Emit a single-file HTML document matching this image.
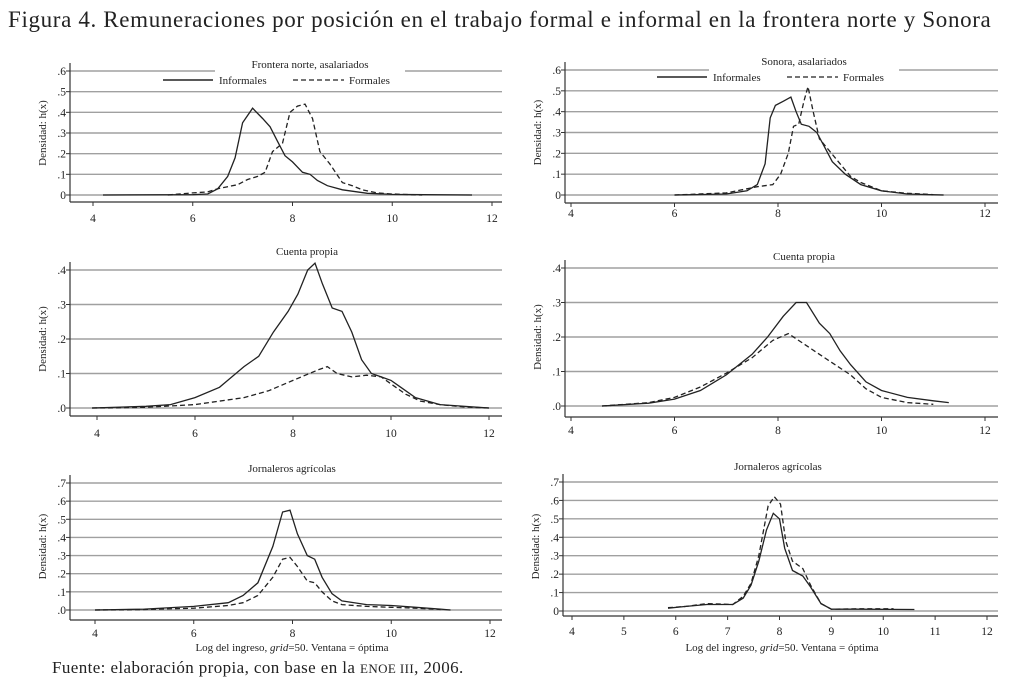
<!DOCTYPE html>
<html><head><meta charset="utf-8"><style>
body{margin:0;background:#fff;width:1032px;height:687px;overflow:hidden;font-family:"Liberation Serif",serif;}
#title{position:absolute;left:8px;top:7px;font-size:23px;color:#222;white-space:nowrap;letter-spacing:0.65px}
#foot{position:absolute;left:52px;top:658px;font-size:17px;color:#222;letter-spacing:0.4px;white-space:nowrap}
svg{position:absolute;left:0;top:0}
</style></head><body>
<div id="title">Figura 4. Remuneraciones por posición en el trabajo formal e informal en la frontera norte y Sonora</div>
<div id="foot">Fuente: elaboración propia, con base en la <span style="font-size:13px">ENOE III</span>, 2006.</div>
<svg id="chart" width="1032" height="687"></svg>
<script>
// Panel 1: Frontera norte, asalariados
const p1InfX=[4.2,6,6.3,6.5,6.7,6.85,7,7.2,7.4,7.55,7.7,7.85,8.0,8.2,8.35,8.5,8.7,9,9.5,10,11.6];
const p1InfY=[0,0.002,0.005,0.03,0.09,0.18,0.35,0.42,0.37,0.33,0.26,0.19,0.16,0.11,0.10,0.07,0.045,0.025,0.008,0.003,0];
const p1ForX=[5.5,6,6.3,6.5,6.7,6.9,7.1,7.3,7.45,7.6,7.8,7.95,8.1,8.25,8.4,8.55,8.75,9.0,9.2,9.4,9.7,10,10.6];
const p1ForY=[0,0.01,0.015,0.03,0.04,0.05,0.075,0.09,0.11,0.21,0.25,0.40,0.43,0.44,0.37,0.21,0.15,0.06,0.045,0.025,0.01,0.005,0];
// Panel 2: Sonora, asalariados
const p2InfX=[6,7,7.4,7.6,7.75,7.85,7.95,8.1,8.25,8.35,8.45,8.6,8.75,8.9,9.05,9.3,9.6,10,10.5,11.2];
const p2InfY=[0,0.005,0.02,0.05,0.15,0.37,0.43,0.45,0.47,0.40,0.34,0.33,0.30,0.23,0.16,0.10,0.05,0.02,0.005,0];
const p2ForX=[6,7,7.4,7.6,7.9,8.05,8.2,8.3,8.4,8.5,8.58,8.68,8.8,9,9.2,9.4,9.6,10,10.5,11];
const p2ForY=[0,0.01,0.03,0.04,0.05,0.10,0.20,0.33,0.34,0.45,0.52,0.40,0.27,0.21,0.15,0.09,0.06,0.02,0.008,0.002];
// Panel 3: Cuenta propia (frontera)
const p3InfX=[3.9,5,5.5,6,6.5,7,7.3,7.6,7.9,8.1,8.3,8.45,8.6,8.8,9,9.2,9.4,9.6,9.8,10,10.2,10.5,11,12];
const p3InfY=[0,0.005,0.01,0.03,0.06,0.12,0.15,0.22,0.28,0.33,0.40,0.42,0.36,0.29,0.28,0.22,0.14,0.10,0.09,0.08,0.06,0.03,0.01,0];
const p3ForX=[3.9,5,6,7,7.5,8,8.5,8.7,8.9,9.2,9.5,9.8,10,10.3,10.6,11,11.5,12];
const p3ForY=[0,0.002,0.01,0.03,0.05,0.08,0.11,0.12,0.10,0.09,0.095,0.09,0.07,0.04,0.02,0.01,0.003,0];
// Panel 4: Cuenta propia (Sonora)
const p4InfX=[4.6,5.5,6,6.5,7,7.5,7.8,8.1,8.35,8.55,8.8,9,9.2,9.4,9.7,10,10.5,11,11.3];
const p4InfY=[0,0.008,0.02,0.045,0.09,0.15,0.20,0.26,0.30,0.30,0.24,0.21,0.16,0.12,0.07,0.045,0.025,0.015,0.01];
const p4ForX=[4.6,5.5,6,6.5,7,7.5,7.9,8.2,8.5,8.8,9.1,9.4,9.7,10,10.5,11];
const p4ForY=[0,0.01,0.025,0.055,0.095,0.14,0.19,0.21,0.18,0.15,0.12,0.09,0.05,0.025,0.01,0.005];
// Panel 5: Jornaleros agrícolas (frontera)
const p5InfX=[4,5,6,6.7,7,7.3,7.6,7.8,7.95,8.1,8.3,8.45,8.6,8.8,9,9.5,10,10.5,11,11.2];
const p5InfY=[0,0.005,0.02,0.04,0.08,0.15,0.35,0.54,0.55,0.42,0.30,0.28,0.18,0.09,0.05,0.03,0.025,0.015,0.005,0];
const p5ForX=[4,5,6,6.7,7,7.3,7.6,7.8,7.95,8.1,8.3,8.45,8.6,8.8,9,9.5,10,10.5,11];
const p5ForY=[0,0.003,0.01,0.025,0.04,0.08,0.18,0.28,0.29,0.24,0.16,0.15,0.10,0.05,0.03,0.02,0.015,0.01,0.003];
// Panel 6: Jornaleros agrícolas (Sonora)
const p6InfX=[5.85,6.2,6.6,7.1,7.3,7.45,7.6,7.75,7.88,8,8.1,8.25,8.45,8.6,8.8,9,9.5,10.6];
const p6InfY=[0.015,0.025,0.035,0.035,0.07,0.14,0.27,0.44,0.53,0.50,0.34,0.22,0.19,0.13,0.04,0.01,0.01,0.008];
const p6ForX=[5.85,6.2,6.6,7.1,7.3,7.45,7.6,7.78,7.9,8.02,8.12,8.25,8.45,8.6,8.8,9,9.5,10.2];
const p6ForY=[0.018,0.025,0.04,0.035,0.08,0.15,0.30,0.57,0.62,0.58,0.38,0.27,0.23,0.14,0.04,0.01,0.012,0.012];

const ticks123=[4,6,8,10,12];
const ticks6=[4,5,6,7,8,9,10,11,12];
const yT6=[0,0.1,0.2,0.3,0.4,0.5,0.6];
const yT4=[0,0.1,0.2,0.3,0.4];
const yT7=[0,0.1,0.2,0.3,0.4,0.5,0.6,0.7];

const svg=document.getElementById('chart');
const NS='http://www.w3.org/2000/svg';
function mk(tag,attrs,parent){const e=document.createElementNS(NS,tag);for(const k in attrs)e.setAttribute(k,attrs[k]);(parent||svg).appendChild(e);return e;}
function fmt(v,zeroLbl){if(v===0)return zeroLbl;return '.'+Math.round(v*10);}

const panels=[
 {id:'p1',ax:70,gx2:502,x4:93,x12:492,y0:195,ymaxV:0.6,ymaxY:71,xAxY:202,xlY:222,ticks:ticks123,yt:yT6,z:'0',title:'Frontera norte, asalariados',tY:68,tX:310,infX:p1InfX,infY:p1InfY,forX:p1ForX,forY:p1ForY,legend:true},
 {id:'p2',ax:565,gx2:998,x4:571,x12:985,y0:195,ymaxV:0.6,ymaxY:70,xAxY:203,xlY:217,ticks:ticks123,yt:yT6,z:'0',title:'Sonora, asalariados',tY:65,tX:804,infX:p2InfX,infY:p2InfY,forX:p2ForX,forY:p2ForY,legend:true},
 {id:'p3',ax:70,gx2:502,x4:97,x12:489,y0:408,ymaxV:0.4,ymaxY:270,xAxY:416,xlY:437,ticks:ticks123,yt:yT4,z:'.0',title:'Cuenta propia',tY:255,tX:307,infX:p3InfX,infY:p3InfY,forX:p3ForX,forY:p3ForY},
 {id:'p4',ax:565,gx2:998,x4:571,x12:985,y0:406,ymaxV:0.4,ymaxY:268,xAxY:417,xlY:434,ticks:ticks123,yt:yT4,z:'.0',title:'Cuenta propia',tY:260,tX:804,infX:p4InfX,infY:p4InfY,forX:p4ForX,forY:p4ForY},
 {id:'p5',ax:70,gx2:502,x4:95,x12:490,y0:610,ymaxV:0.7,ymaxY:483,xAxY:620,xlY:637,ticks:ticks123,yt:yT7,z:'.0',title:'Jornaleros agrícolas',tY:472,tX:292,infX:p5InfX,infY:p5InfY,forX:p5ForX,forY:p5ForY,xtitle:true,xtX:292},
 {id:'p6',ax:563,gx2:998,x4:572,x12:987,y0:611,ymaxV:0.7,ymaxY:482,xAxY:616,xlY:635,ticks:ticks6,yt:yT7,z:'0',title:'Jornaleros agrícolas',tY:470,tX:778,infX:p6InfX,infY:p6InfY,forX:p6ForX,forY:p6ForY,xtitle:true,xtX:782}
];

panels.forEach(p=>{
 const g=mk('g',{});
 
 
 const sx=v=>p.x4+(v-4)*(p.x12-p.x4)/8;
 const sy=v=>p.y0-v*(p.y0-p.ymaxY)/p.ymaxV;
 p.yt.forEach(v=>{
  const ln=mk('line',{x1:p.ax,x2:p.gx2,y1:sy(v),y2:sy(v),stroke:'#a0a0a0','stroke-width':1.4},g);
  
  
  mk('line',{x1:p.ax-4,x2:p.ax,y1:sy(v),y2:sy(v),stroke:'#333','stroke-width':1},g);
  const t=mk('text',{x:p.ax-4,y:sy(v)+4,'text-anchor':'end','font-size':11.5,fill:'#222'},g);
  t.textContent=fmt(v,p.z);
  
  
 });
 const ya=mk('line',{x1:p.ax,x2:p.ax,y1:p.ymaxY-8,y2:p.xAxY,stroke:'#333','stroke-width':1.2},g);
 
 
 const xa=mk('line',{x1:p.ax,x2:p.gx2,y1:p.xAxY,y2:p.xAxY,stroke:'#333','stroke-width':1.2},g);
 
 
 p.ticks.forEach(v=>{
  mk('line',{x1:sx(v),x2:sx(v),y1:p.xAxY,y2:p.xAxY+4,stroke:'#333','stroke-width':1},g);
  const t=mk('text',{x:sx(v),y:p.xlY,'text-anchor':'middle','font-size':11.5,fill:'#222'},g);
  t.textContent=v;
  
  
 });
 const cy=(p.y0+p.ymaxY)/2;
 const yt=mk('text',{x:0,y:0,'text-anchor':'middle','font-size':11,fill:'#222',transform:`translate(${p.ax-24},${cy}) rotate(-90)`},g);
 yt.textContent='Densidad: h(x)';
 
 
 if(p.legend){mk('rect',{x:p.tX-95,y:p.tY-10,width:190,height:26,fill:'#fff'},g);}
 const tt=mk('text',{x:p.tX,y:p.tY,'text-anchor':'middle','font-size':11,fill:'#222'},g);
 tt.textContent=p.title;
 
 
 if(p.legend){
  const ly=p.tY+12;
  mk('line',{x1:p.tX-147,x2:p.tX-97,y1:ly,y2:ly,stroke:'#222','stroke-width':1.4},g);
  const a=mk('text',{x:p.tX-91,y:ly+4,'font-size':11,fill:'#222'},g);a.textContent='Informales';
  
  
  mk('line',{x1:p.tX-17,x2:p.tX+34,y1:ly,y2:ly,stroke:'#222','stroke-width':1.2,'stroke-dasharray':'5,3'},g);
  const b=mk('text',{x:p.tX+39,y:ly+4,'font-size':11,fill:'#222'},g);b.textContent='Formales';
  
  
 }
 if(p.xtitle){
  const xt=mk('text',{x:p.xtX,y:651,'text-anchor':'middle','font-size':11,fill:'#222'},g);
  xt.innerHTML='Log del ingreso, <tspan font-style="italic">grid</tspan>=50. Ventana = óptima';
  
  
 }
 const line=(xs,ys,dash,name)=>{
  const d=xs.map((x,i)=>(i?'L':'M')+sx(x).toFixed(1)+','+sy(ys[i]).toFixed(1)).join('');
  const e=mk('path',{d:d,fill:'none',stroke:'#222','stroke-width':1.3,'stroke-dasharray':dash},g);
  
  
 };
 line(p.forX,p.forY,'5,3','formales-line');
 line(p.infX,p.infY,'none','informales-line');
});
</script>
</body></html>
